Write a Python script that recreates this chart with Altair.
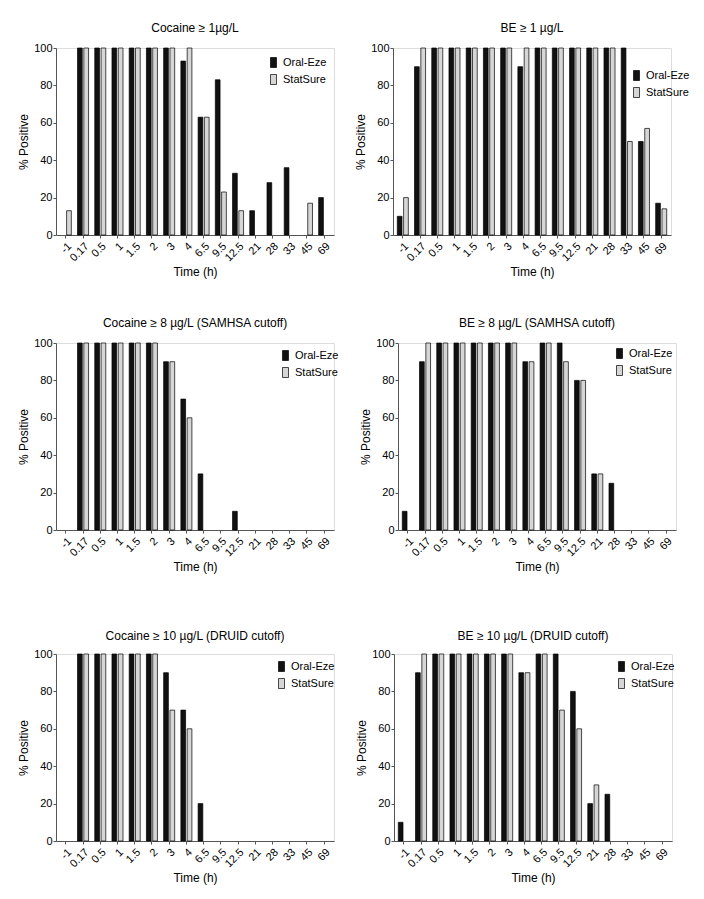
import altair as alt
import pandas as pd

times = ["-1", "0.17", "0.5", "1", "1.5", "2", "3", "4", "6.5", "9.5",
         "12.5", "21", "28", "33", "45", "69"]
series = ["Oral-Eze", "StatSure"]

coc1_oe = [0, 100, 100, 100, 100, 100, 100, 93, 63, 83, 33, 13, 28, 36, 0, 20]
coc1_ss = [13, 100, 100, 100, 100, 100, 100, 100, 63, 23, 13, 0, 0, 0, 17, 0]
be1_oe = [10, 90, 100, 100, 100, 100, 100, 90, 100, 100, 100, 100, 100, 100, 50, 17]
be1_ss = [20, 100, 100, 100, 100, 100, 100, 100, 100, 100, 100, 100, 100, 50, 57, 14]
coc8_oe = [0, 100, 100, 100, 100, 100, 90, 70, 30, 0, 10, 0, 0, 0, 0, 0]
coc8_ss = [0, 100, 100, 100, 100, 100, 90, 60, 0, 0, 0, 0, 0, 0, 0, 0]
be8_oe = [10, 90, 100, 100, 100, 100, 100, 90, 100, 100, 80, 30, 25, 0, 0, 0]
be8_ss = [0, 100, 100, 100, 100, 100, 100, 90, 100, 90, 80, 30, 0, 0, 0, 0]
coc10_oe = [0, 100, 100, 100, 100, 100, 90, 70, 20, 0, 0, 0, 0, 0, 0, 0]
coc10_ss = [0, 100, 100, 100, 100, 100, 70, 60, 0, 0, 0, 0, 0, 0, 0, 0]
be10_oe = [10, 90, 100, 100, 100, 100, 100, 90, 100, 100, 80, 20, 25, 0, 0, 0]
be10_ss = [0, 100, 100, 100, 100, 100, 100, 90, 100, 70, 60, 30, 0, 0, 0, 0]

titles = [
    "Cocaine \u2265 1\u00b5g/L",
    "BE \u2265 1 \u00b5g/L",
    "Cocaine \u2265 8 \u00b5g/L (SAMHSA cutoff)",
    "BE \u2265 8 \u00b5g/L (SAMHSA cutoff)",
    "Cocaine \u2265 10 \u00b5g/L (DRUID cutoff)",
    "BE \u2265 10 \u00b5g/L (DRUID cutoff)",
]

FONT = "Liberation Sans"
W, H = 278, 187
AXC = "#555555"


def panel(title, oe, ss, lx, ly, toff):
    rows = []
    for t, a, b in zip(times, oe, ss):
        rows.append({"time": t, "series": "Oral-Eze", "value": a})
        rows.append({"time": t, "series": "StatSure", "value": b})
    df = pd.DataFrame(rows)
    return (
        alt.Chart(df)
        .transform_filter("datum.value > 0")
        .mark_bar(stroke="black", strokeWidth=0.7)
        .encode(
            x=alt.X(
                "time:N",
                sort=times,
                scale=alt.Scale(domain=times, paddingInner=0.36, paddingOuter=0.25),
                axis=alt.Axis(
                    title="Time (h)", labelAngle=-45, labelFontSize=11,
                    titleFontSize=12, titleFontWeight="normal", labelFont=FONT,
                    titleFont=FONT, labelColor="black", titleColor="black",
                    domainColor=AXC, tickColor=AXC, tickSize=3,
                    labelPadding=2, titlePadding=4,
                ),
            ),
            xOffset=alt.XOffset(
                "series:N", scale=alt.Scale(domain=series, paddingInner=0.25)
            ),
            y=alt.Y(
                "value:Q",
                scale=alt.Scale(domain=[0, 100], nice=False),
                axis=alt.Axis(
                    title="% Positive", values=[0, 20, 40, 60, 80, 100],
                    grid=False, labelFontSize=11, titleFontSize=12,
                    titleFontWeight="normal", labelFont=FONT, titleFont=FONT,
                    labelColor="black", titleColor="black",
                    domainColor=AXC, tickColor=AXC, tickSize=3,
                    labelPadding=1, titlePadding=3,
                ),
            ),
            color=alt.Color(
                "series:N",
                scale=alt.Scale(domain=series, range=["#111111", "#d6d6d6"]),
                legend=alt.Legend(
                    title=None, orient="none", legendX=lx, legendY=ly,
                    symbolType="M-0.6,-1L0.6,-1L0.6,1L-0.6,1Z", symbolSize=100,
                    symbolStrokeColor="black", symbolStrokeWidth=0.7,
                    labelFont=FONT, labelFontSize=11, labelColor="black",
                    labelOffset=4, rowPadding=4,
                ),
            ),
        )
        .properties(
            width=W, height=H,
            title=alt.TitleParams(
                title, fontSize=12, fontWeight="normal", font=FONT,
                color="black", offset=toff,
            ),
        )
    )


p1 = panel(titles[0], coc1_oe, coc1_ss, 212, 9, 7)
p2 = panel(titles[1], be1_oe, be1_ss, 238, 22, 7)
p3 = panel(titles[2], coc8_oe, coc8_ss, 224, 7, 7)
p4 = panel(titles[3], be8_oe, be8_ss, 216, 5, 7)
p5 = panel(titles[4], coc10_oe, coc10_ss, 220, 7, 5)
p6 = panel(titles[5], be10_oe, be10_ss, 222, 7, 5)


def row(a, b):
    return (
        alt.hconcat(a, b, spacing=19)
        .resolve_scale(color="independent")
        .resolve_legend(color="independent")
    )


top = (
    alt.vconcat(row(p1, p2), row(p3, p4), spacing=37)
    .resolve_scale(color="independent")
    .resolve_legend(color="independent")
)

chart = (
    alt.vconcat(top, row(p5, p6), spacing=55)
    .resolve_scale(color="independent")
    .resolve_legend(color="independent")
    .properties(padding={"top": 13, "left": 9, "right": 0, "bottom": 0})
    .configure_view(stroke=None)
    .configure(background="white")
)

chart.save("out.html", embed_options={"renderer": "svg", "actions": False})
